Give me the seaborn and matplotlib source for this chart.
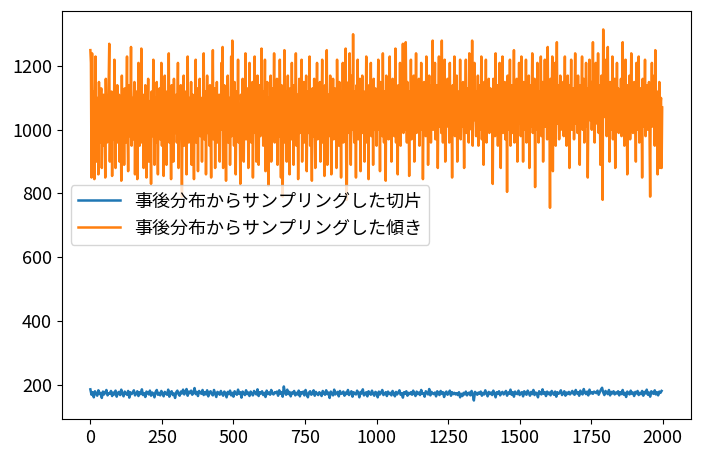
import numpy as np
import pandas as pd
import matplotlib
matplotlib.use('Agg')
import matplotlib.pyplot as plt
import seaborn as sns

# 傾きのサンプル（2ステップ刻みで読み取り、1000点）
slope_samples = [
    1250, 1210, 850, 1240, 1010, 960, 1120, 845, 1060, 1230, 990, 900, 1100, 1050, 860, 1150, 1020, 960, 1080, 1130, 880, 1040, 1000, 1110, 950,
    1070, 850, 1160, 1020, 960, 1090, 1000, 1150, 1270, 900, 1060, 1010, 1120, 855, 1040, 1100, 970, 1220, 1030, 880, 1080, 1000, 1140, 960, 1050,
    1110, 900, 1030, 1070, 840, 1170, 990, 1050, 1090, 890, 1130, 1010, 960, 1080, 1230, 1000, 870, 1060, 1140, 980, 1040, 1260, 950, 1100, 1020,
    970, 1080, 1150, 860, 1040, 1010, 1120, 845, 1060, 1210, 1000, 950, 1090, 1030, 1255, 960, 1070, 1110, 880, 1050, 990, 1140, 1010, 850, 1080,
    1030, 1160, 900, 1090, 1000, 1060, 830, 1120, 1020, 980, 1220, 1040, 890, 1100, 1070, 960, 1150, 1010, 860, 1080, 1050, 1130, 970, 1020, 1210,
    950, 1060, 1100, 855, 1040, 1170, 1000, 1080, 890, 1120, 1030, 980, 1240, 960, 1070, 1050, 845, 1140, 1010, 1090, 900, 1160, 1020, 1060, 990,
    1110, 960, 1050, 1210, 880, 1030, 1080, 1000, 1140, 980, 790, 1090, 1040, 1170, 950, 1060, 1010, 1120, 860, 1070, 1230, 1020, 960, 1100, 1040,
    990, 1150, 890, 1060, 1110, 1000, 845, 1080, 1030, 1220, 960, 1040, 1130, 870, 1070, 1020, 1160, 980, 1050, 1100, 900, 1090, 1010, 1240, 970,
    1060, 1120, 860, 1040, 1170, 990, 1080, 1030, 950, 1140, 1010, 850, 1100, 1060, 1250, 970, 1050, 1130, 880, 1070, 1000, 1150, 960, 1090, 1040,
    1110, 900, 1060, 1000, 1210, 1030, 1260, 880, 1080, 1140, 990, 1050, 840, 1120, 1010, 1170, 960, 1070, 1100, 890, 1040, 1230, 980, 1280, 1020,
    1090, 950, 1150, 1040, 860, 1070, 1120, 1000, 1220, 960, 1060, 1030, 830, 1110, 1080, 980, 1160, 1020, 900, 1100, 1050, 1240, 970, 1070, 1010,
    1130, 880, 1060, 1210, 1000, 1090, 960, 1040, 1150, 850, 1070, 1020, 1230, 990, 1110, 900, 1050, 1170, 1010, 890, 1080, 1140, 980, 1060, 1255,
    1000, 1120, 950, 1070, 1040, 1220, 870, 1090, 1020, 1150, 970, 825, 1100, 1060, 1000, 1170, 900, 1080, 1130, 990, 1050, 1240, 960, 1040, 1110,
    1010, 1160, 890, 1070, 1100, 980, 1220, 1030, 850, 1140, 1050, 790, 1090, 1000, 1250, 960, 1060, 1120, 900, 1080, 1170, 1010, 1040, 860, 1130,
    1050, 970, 1210, 1020, 1090, 890, 1140, 1060, 1000, 1240, 950, 1080, 1110, 845, 1040, 1160, 990, 1070, 1030, 1220, 900, 1100, 1010, 1150, 960,
    1080, 1020, 1170, 870, 1060, 1120, 990, 1040, 1230, 950, 1090, 1010, 840, 1130, 1070, 980, 1160, 1030, 880, 1100, 1050, 1210, 970, 1060, 1120,
    1000, 1150, 900, 1080, 1040, 1220, 960, 1100, 1020, 855, 1140, 1060, 1000, 1250, 890, 1070, 1110, 980, 1050, 1170, 1010, 860, 1090, 1040, 1160,
    970, 1080, 1130, 1000, 1060, 880, 1220, 1030, 1100, 950, 1150, 1040, 1070, 850, 1120, 1010, 1210, 960, 1050, 1090, 1000, 1255, 900, 780, 1110,
    1060, 1150, 990, 1240, 1030, 890, 1090, 1170, 1000, 1300, 1040, 960, 1120, 1070, 850, 1140, 1020, 1220, 970, 1080, 1050, 1160, 870, 1100, 1030,
    1170, 990, 1060, 1120, 900, 1080, 1020, 1230, 960, 1090, 1050, 845, 1140, 1010, 1070, 1210, 980, 1040, 1110, 890, 1160, 1000, 1060, 1130, 1020,
    950, 1100, 1060, 1220, 1000, 1080, 870, 1150, 1030, 1070, 980, 1240, 1040, 960, 1120, 1090, 840, 1170, 1010, 1050, 1130, 970, 1080, 1230, 1020,
    1100, 900, 1060, 1160, 1000, 1120, 980, 1040, 1255, 960, 1090, 1050, 860, 1140, 1070, 1010, 1210, 950, 1080, 1110, 1030, 1270, 990, 1060, 1130,
    1000, 1275, 1070, 960, 1150, 1040, 1090, 855, 1120, 1010, 1220, 970, 1060, 1100, 1030, 1170, 900, 1080, 1050, 1240, 990, 1130, 1020, 1070, 1160,
    950, 1090, 1040, 1210, 1000, 1120, 845, 1060, 1150, 1020, 1080, 980, 1230, 1040, 1110, 890, 1070, 1170, 1010, 1090, 960, 1140, 1050, 1280, 1000,
    1110, 1060, 1210, 970, 1080, 1040, 1140, 880, 1090, 1230, 1010, 1070, 1150, 990, 1280, 1050, 960, 1120, 1030, 1220, 900, 1080, 1100, 1010, 1160,
    1040, 1090, 960, 1210, 1020, 1110, 1070, 850, 1140, 1000, 1060, 1230, 980, 1100, 1050, 1170, 900, 1080, 1030, 1120, 1000, 1220, 970, 1060, 1130,
    1010, 1150, 1050, 880, 1100, 1070, 1220, 990, 1130, 1040, 1080, 960, 1240, 1020, 1090, 1160, 1000, 1280, 950, 1110, 1060, 1210, 1030, 1070, 980,
    1120, 1060, 1170, 950, 1090, 1030, 1140, 1000, 1230, 970, 1080, 1110, 890, 1150, 1050, 1010, 1220, 960, 1070, 1100, 1040, 1160, 990, 1060, 1130,
    1000, 1080, 1120, 830, 1160, 1040, 1090, 980, 1240, 1020, 1070, 1140, 950, 1100, 1050, 1210, 1010, 880, 1130, 1060, 1230, 990, 1080, 1040, 1150,
    970, 1090, 1120, 805, 1170, 1030, 1080, 1000, 1220, 950, 1110, 1060, 1140, 990, 1050, 1250, 960, 1070, 1100, 1010, 1160, 900, 1090, 1040, 1210,
    1020, 1130, 980, 1230, 1060, 1100, 900, 1150, 1040, 1080, 1000, 1220, 960, 1120, 1070, 1030, 1170, 880, 1090, 1140, 1010, 1060, 1240, 990, 1110,
    1050, 1160, 820, 1130, 1070, 1000, 1210, 1040, 960, 1120, 1090, 1020, 1230, 980, 1060, 1150, 900, 1100, 1040, 1220, 1010, 1080, 1130, 970, 1260,
    1030, 1110, 1070, 755, 1160, 1040, 1090, 1230, 870, 1130, 1060, 1010, 1210, 950, 1100, 1275, 1020, 1080, 1140, 970, 1050, 1170, 1000, 1090, 1120,
    1040, 1150, 980, 1080, 1230, 1010, 1110, 950, 1070, 1170, 1030, 1090, 880, 1140, 1060, 1220, 1000, 1100, 1050, 1130, 970, 1080, 1240, 1020, 1060,
    1120, 990, 1170, 1050, 1080, 890, 1140, 1020, 1100, 1230, 1000, 1070, 1160, 960, 1090, 1040, 1210, 1010, 1130, 850, 1060, 1110, 1220, 1030, 1080,
    1150, 1000, 1090, 1275, 1040, 1120, 960, 1070, 1210, 1020, 1100, 1050, 1240, 990, 1080, 1140, 890, 1060, 1170, 1010, 780, 1315, 1090, 1040, 1150,
    1060, 1220, 980, 1110, 1260, 1030, 1080, 900, 1150, 1050, 1120, 1000, 1230, 970, 1090, 1070, 1160, 880, 1100, 1040, 1210, 1010, 1130, 990, 1070,
    1110, 1030, 1160, 980, 1090, 1275, 1000, 1120, 950, 1070, 1220, 1040, 1100, 860, 1140, 1060, 1010, 1170, 970, 1080, 1240, 1030, 1120, 990, 1060,
    1150, 1020, 1090, 900, 1210, 1050, 1110, 1000, 1230, 960, 1070, 1130, 1030, 1080, 850, 1160, 1010, 1100, 1050, 1220, 980, 1120, 1060, 1140, 1000,
    1090, 1150, 980, 790, 1120, 1060, 1210, 1010, 1100, 1040, 1170, 950, 1250, 1030, 1080, 1120, 860, 1090, 1050, 1150, 880, 1080, 1100, 880, 1070,
]

# 切片のサンプル（4ステップ刻みで読み取り、500点）
intercept_samples = [
    185, 168, 176, 160, 179, 172, 165, 182, 170, 174, 158, 178, 169, 175, 183, 166, 173, 171, 180, 164,
    175, 169, 181, 162, 174, 177, 167, 184, 171, 163, 178, 172, 168, 180, 159, 176, 170, 174, 182, 166,
    171, 179, 164, 176, 170, 185, 167, 173, 161, 178, 174, 169, 181, 165, 175, 172, 160, 177, 183, 168,
    174, 166, 180, 171, 163, 177, 173, 168, 184, 162, 175, 179, 167, 172, 158, 176, 181, 170, 165, 178,
    172, 184, 169, 176, 186, 165, 178, 173, 181, 168, 175, 189, 170, 177, 164, 180, 174, 171, 183, 167,
    176, 169, 182, 163, 175, 179, 170, 166, 183, 172, 161, 177, 174, 168, 180, 171, 165, 178, 173, 160,
    177, 170, 181, 166, 174, 162, 179, 172, 168, 184, 171, 176, 159, 178, 173, 167, 182, 170, 175, 164,
    178, 171, 166, 180, 173, 169, 185, 164, 176, 172, 179, 167, 174, 161, 181, 170, 175, 168, 183, 172,
    169, 176, 173, 178, 165, 182, 171, 176, 162, 194, 174, 168, 184, 170, 177, 163, 175, 172, 180, 166,
    174, 169, 181, 163, 176, 172, 178, 166, 183, 170, 160, 175, 179, 168, 173, 182, 165, 177, 171, 167,
    176, 171, 164, 180, 173, 168, 182, 170, 175, 158, 178, 172, 166, 184, 169, 174, 177, 163, 180, 171,
    172, 178, 165, 175, 170, 183, 167, 173, 179, 162, 176, 171, 169, 181, 174, 160, 177, 172, 185, 166,
    170, 176, 163, 179, 173, 168, 181, 171, 165, 177, 174, 160, 178, 169, 175, 183, 167, 172, 176, 164,
    178, 170, 174, 166, 180, 172, 163, 177, 169, 175, 182, 168, 173, 159, 176, 171, 179, 165, 174, 170,
    176, 168, 181, 172, 164, 178, 170, 175, 167, 183, 171, 173, 162, 179, 174, 169, 186, 166, 177, 172,
    170, 175, 163, 179, 172, 167, 180, 171, 176, 161, 174, 178, 168, 173, 181, 165, 176, 170, 174, 169,
    173, 167, 176, 160, 171, 164, 174, 169, 178, 166, 172, 175, 166, 180, 170, 150, 177, 173, 168, 175,
    171, 178, 165, 174, 169, 182, 172, 163, 177, 170, 175, 167, 181, 173, 160, 176, 171, 179, 166, 174,
    177, 169, 173, 180, 165, 175, 171, 184, 168, 176, 162, 178, 172, 170, 181, 167, 174, 176, 163, 179,
    172, 168, 181, 174, 165, 177, 170, 183, 167, 175, 172, 160, 179, 173, 169, 185, 171, 176, 164, 178,
    170, 175, 166, 180, 173, 168, 178, 162, 176, 171, 174, 182, 167, 172, 179, 165, 175, 170, 177, 169,
    174, 180, 171, 168, 183, 172, 176, 165, 181, 173, 169, 186, 175, 170, 178, 166, 184, 172, 176, 171,
    178, 176, 173, 181, 168, 176, 184, 190, 175, 167, 180, 174, 170, 183, 166, 177, 172, 179, 169, 175,
    172, 179, 166, 176, 170, 183, 168, 174, 161, 178, 173, 169, 181, 171, 175, 164, 177, 172, 180, 167,
    174, 170, 180, 165, 177, 172, 184, 168, 175, 162, 179, 173, 171, 182, 169, 176, 166, 178, 174, 180,
]

slope_steps = np.arange(0, 2000, 2)
intercept_steps = np.arange(0, 2000, 4)

plt.rcParams['font.family'] = ['Noto Sans CJK JP', 'DejaVu Sans']
plt.rcParams['font.size'] = 13

fig = plt.figure(figsize=(7.02, 4.54), dpi=100)
ax = fig.add_axes([0.088, 0.077, 0.896, 0.899])

sns.lineplot(x=intercept_steps, y=intercept_samples, ax=ax, color='tab:blue', linewidth=1.8,
             label='事後分布からサンプリングした切片')
sns.lineplot(x=slope_steps, y=slope_samples, ax=ax, color='tab:orange', linewidth=1.8,
             label='事後分布からサンプリングした傾き')

ax.set_xticks([0, 250, 500, 750, 1000, 1250, 1500, 1750, 2000])
ax.legend(loc='center left', handlelength=2.3)

fig.savefig('out.png', dpi=100)
